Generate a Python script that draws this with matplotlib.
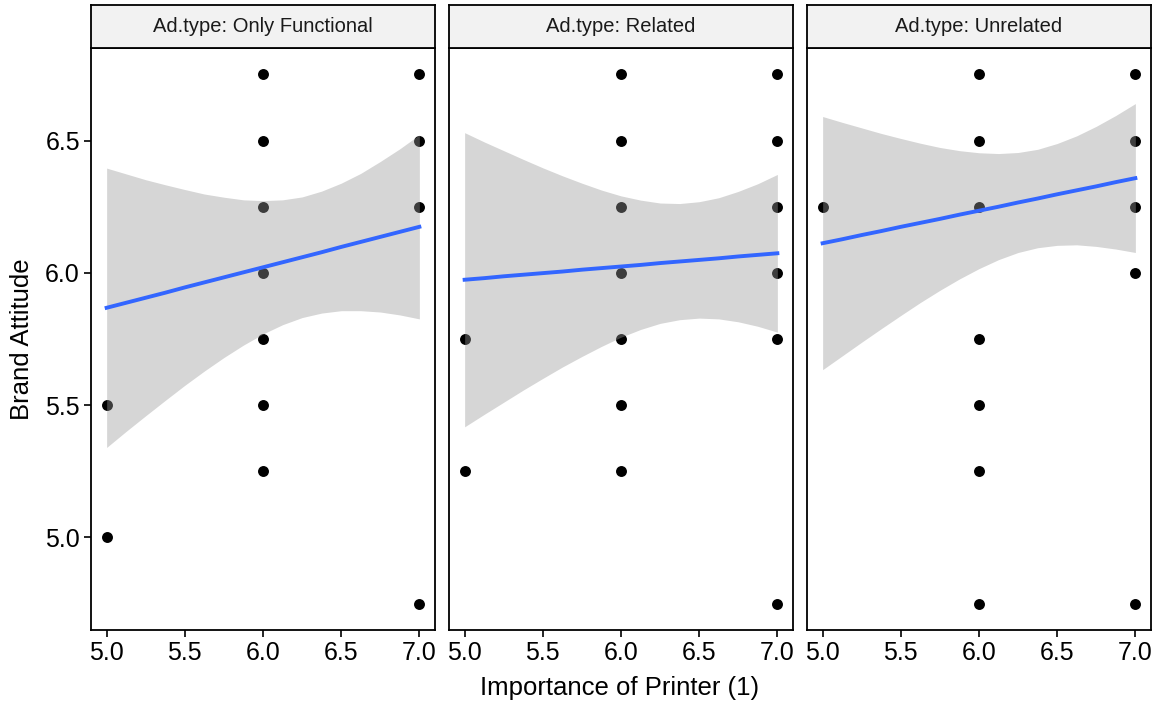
import numpy as np
import matplotlib.pyplot as plt

plt.rcParams['font.family'] = ['Liberation Sans', 'DejaVu Sans']

ad_types = ['Only Functional', 'Related', 'Unrelated']

# observed (printer importance, brand attitude) positions per ad type
func_x = [5, 5, 6, 6, 6, 6, 6, 6, 6, 7, 7, 7, 7]
func_y = [5.5, 5.0, 6.75, 6.5, 6.25, 6.0, 5.75, 5.5, 5.25, 6.75, 6.5, 6.25, 4.75]
rel_x = [5, 5, 6, 6, 6, 6, 6, 6, 6, 7, 7, 7, 7, 7, 7]
rel_y = [5.75, 5.25, 6.75, 6.5, 6.25, 6.0, 5.75, 5.5, 5.25, 6.75, 6.5, 6.25, 6.0, 5.75, 4.75]
unrel_x = [5, 6, 6, 6, 6, 6, 6, 6, 7, 7, 7, 7, 7]
unrel_y = [6.25, 6.75, 6.5, 6.25, 5.75, 5.5, 5.25, 4.75, 6.75, 6.5, 6.25, 6.0, 4.75]

# lm fit and 95% band
grid_x = [5.0, 5.125, 5.25, 5.375, 5.5, 5.625, 5.75, 5.875, 6.0,
          6.125, 6.25, 6.375, 6.5, 6.625, 6.75, 6.875, 7.0]
func_fit = [5.868, 5.887, 5.906, 5.925, 5.945, 5.964, 5.983, 6.002, 6.021,
            6.040, 6.059, 6.078, 6.098, 6.117, 6.136, 6.155, 6.174]
func_hi = [6.396, 6.374, 6.352, 6.333, 6.315, 6.298, 6.286, 6.276, 6.273,
           6.276, 6.287, 6.309, 6.339, 6.376, 6.421, 6.469, 6.522]
func_lo = [5.340, 5.401, 5.460, 5.518, 5.575, 5.629, 5.680, 5.727, 5.769,
           5.804, 5.831, 5.848, 5.857, 5.857, 5.852, 5.841, 5.826]
rel_fit = [5.974, 5.980, 5.987, 5.993, 5.999, 6.005, 6.012, 6.018, 6.024,
           6.030, 6.037, 6.043, 6.049, 6.055, 6.062, 6.068, 6.074]
rel_hi = [6.530, 6.495, 6.462, 6.429, 6.397, 6.367, 6.339, 6.313, 6.291,
          6.275, 6.264, 6.262, 6.269, 6.284, 6.308, 6.337, 6.372]
rel_lo = [5.418, 5.465, 5.511, 5.557, 5.601, 5.644, 5.684, 5.722, 5.757,
          5.786, 5.809, 5.823, 5.829, 5.826, 5.815, 5.798, 5.776]
unrel_fit = [6.112, 6.127, 6.143, 6.158, 6.174, 6.189, 6.204, 6.220, 6.235,
             6.250, 6.266, 6.281, 6.297, 6.312, 6.327, 6.343, 6.358]
unrel_hi = [6.591, 6.569, 6.548, 6.527, 6.508, 6.490, 6.474, 6.462, 6.454,
            6.451, 6.455, 6.467, 6.489, 6.518, 6.554, 6.595, 6.640]
unrel_lo = [5.634, 5.686, 5.738, 5.789, 5.839, 5.888, 5.934, 5.977, 6.016,
            6.050, 6.077, 6.095, 6.104, 6.106, 6.100, 6.090, 6.077]

x_ticks = [5.0, 5.5, 6.0, 6.5, 7.0]
y_ticks = [5.0, 5.5, 6.0, 6.5]

panels = [
    (func_x, func_y, func_fit, func_lo, func_hi),
    (rel_x, rel_y, rel_fit, rel_lo, rel_hi),
    (unrel_x, unrel_y, unrel_fit, unrel_lo, unrel_hi),
]

W, H = 1161, 708
fig = plt.figure(figsize=(W / 100, H / 100), dpi=100)

lefts = [91, 449, 807]
pw = 344
top, bottom = 48, 630
strip_top = 5

for i, (px, py, fit, lo, hi) in enumerate(panels):
    ax = fig.add_axes([lefts[i] / W, (H - bottom) / H, pw / W, (bottom - top) / H])
    ax.scatter(px, py, s=62, color='black', zorder=2, linewidths=0)
    ax.fill_between(grid_x, lo, hi, color='#999999', alpha=0.4, linewidth=0, zorder=3)
    ax.plot(grid_x, fit, color='#3366FF', lw=2.8, zorder=4)
    ax.set_xlim(4.9, 7.1)
    ax.set_ylim(4.65, 6.85)
    ax.set_xticks(x_ticks)
    ax.set_xticklabels([f"{t:.1f}" for t in x_ticks])
    ax.tick_params(axis='x', length=5, width=1.2, labelsize=18, pad=3, colors='black')
    if i == 0:
        ax.set_yticks(y_ticks)
        ax.set_yticklabels([f"{t:.1f}" for t in y_ticks])
        ax.tick_params(axis='y', length=5, width=1.2, labelsize=18, pad=3)
    else:
        ax.set_yticks([])
    for sp in ax.spines.values():
        sp.set_linewidth(1.3)
        sp.set_color('black')

    # facet strip
    sax = fig.add_axes([lefts[i] / W, (H - top) / H, pw / W, (top - strip_top) / H])
    sax.set_facecolor('#F2F2F2')
    sax.set_xticks([])
    sax.set_yticks([])
    for sp in sax.spines.values():
        sp.set_linewidth(1.3)
        sp.set_color('black')
    sax.text(0.5, 0.5, f"Ad.type: {ad_types[i]}", ha='center', va='center',
             fontsize=14.5, color='#1A1A1A', transform=sax.transAxes)

fig.text(620 / W, 1 - 688 / H, "Importance of Printer (1)", ha='center', va='center', fontsize=18.5)
fig.text(22 / W, 1 - 339 / H, "Brand Attitude", ha='center', va='center', rotation=90, fontsize=18.5)

fig.savefig('out.png', dpi=100, facecolor='white')
